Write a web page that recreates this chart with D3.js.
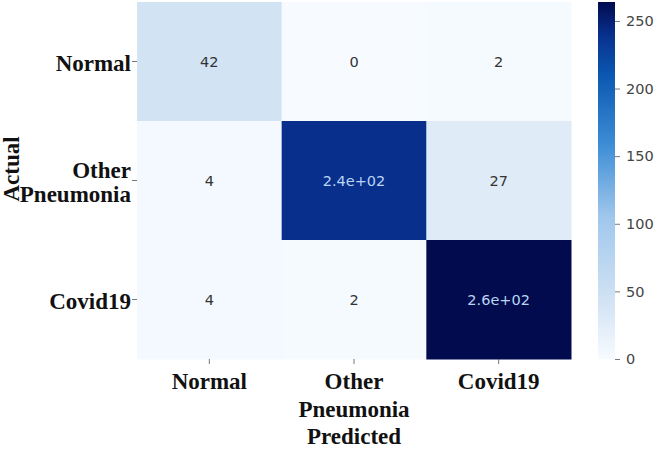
<!DOCTYPE html>
<html>
<head>
<meta charset="utf-8">
<script src="https://cdn.jsdelivr.net/npm/d3@7"></script>
<style>
  html, body { margin: 0; padding: 0; background: #fff; }
  svg { display: block; }
</style>
</head>
<body>
<svg id="chart" width="666" height="449"></svg>
<script>
// ---- data ----
const actualLabels = [["Normal"], ["Other", "Pneumonia"], ["Covid19"]];
const predictedLabels = [["Normal"], ["Other", "Pneumonia", "Predicted"], ["Covid19"]];
const rowNormal = [42, 0, 2];
const rowOther = [4, 240, 27];
const rowCovid = [4, 2, 264];
const annotNormal = ["42", "0", "2"];
const annotOther = ["4", "2.4e+02", "27"];
const annotCovid = ["4", "2", "2.6e+02"];
const colorbarTicks = [0, 50, 100, 150, 200, 250];
const vmin = 0, vmax = 264;

// colour ramp (Blues, as rendered in the reference)
const rampPos = [0, 0.16, 0.4, 0.6, 0.8, 0.91, 1.0];
const rampCol = ["#f7fbff", "#d2e3f4", "#9fc7ec", "#3d8dd6", "#0a56b0", "#082f8c", "#020b4e"];

const rows = [rowNormal, rowOther, rowCovid];
const annots = [annotNormal, annotOther, annotCovid];
const cells = [];
rows.forEach((r, i) => r.forEach((v, j) => cells.push({ i, j, v, t: annots[i][j] })));

const svg = d3.select("#chart");
const L = 137, R = 571, T = 2, B = 359;

const x = d3.scaleBand().domain([0, 1, 2]).range([L, R]);
const y = d3.scaleBand().domain([0, 1, 2]).range([T, B]);
const color = d3.scaleLinear()
  .domain(rampPos.map(p => vmin + p * (vmax - vmin)))
  .range(rampCol).interpolate(d3.interpolateRgb).clamp(true);

// cells
svg.append("g").selectAll("rect").data(cells).join("rect")
  .attr("x", d => x(d.j)).attr("y", d => y(d.i))
  .attr("width", x.bandwidth() + 0.5).attr("height", y.bandwidth() + 0.5)
  .attr("fill", d => color(d.v));

svg.append("g").selectAll("text").data(cells).join("text")
  .attr("x", d => x(d.j) + x.bandwidth() / 2)
  .attr("y", d => y(d.i) + y.bandwidth() / 2)
  .attr("text-anchor", "middle").attr("dominant-baseline", "central")
  .attr("font-family", "DejaVu Sans").attr("font-size", 14.5)
  .attr("fill", d => d.v / vmax > 0.6 ? "#b9d5f2" : "#333")
  .text(d => d.t);

const serif = "'Liberation Serif', 'Times New Roman', serif";

// y axis ticks + labels
const yg = svg.append("g");
[0, 1, 2].forEach(i => {
  const cy = y(i) + y.bandwidth() / 2;
  yg.append("line").attr("x1", L - 5).attr("x2", L).attr("y1", cy).attr("y2", cy)
    .attr("stroke", "#555").attr("stroke-width", 0.8);
  const lines = actualLabels[i];
  const lh = 24;
  const t = yg.append("text").attr("text-anchor", "end")
    .attr("font-family", serif).attr("font-weight", "bold").attr("font-size", 23).attr("fill", "#111");
  lines.forEach((s, k) => {
    t.append("tspan").attr("x", L - 6)
      .attr("y", cy + 9 + (k - (lines.length - 1) / 2) * lh)
      .text(s);
  });
});

// x axis ticks + labels
const xg = svg.append("g");
[0, 1, 2].forEach(j => {
  const cx = x(j) + x.bandwidth() / 2;
  xg.append("line").attr("x1", cx).attr("x2", cx).attr("y1", B).attr("y2", B + 5)
    .attr("stroke", "#555").attr("stroke-width", 0.8);
  const t = xg.append("text").attr("text-anchor", "middle")
    .attr("font-family", serif).attr("font-weight", "bold").attr("font-size", 23).attr("fill", "#111");
  predictedLabels[j].forEach((s, k) => {
    t.append("tspan").attr("x", cx).attr("y", 389 + k * 27.5).text(s);
  });
});

// "Actual" axis label
svg.append("text")
  .attr("transform", `translate(19, ${169}) rotate(-90)`)
  .attr("text-anchor", "middle")
  .attr("font-family", serif).attr("font-weight", "bold").attr("font-size", 23).attr("fill", "#111")
  .text("Actual");

// colorbar
const cbL = 598, cbR = 615;
const cbScale = d3.scaleLinear().domain([vmin, vmax]).range([B, T]);
const defs = svg.append("defs");
const grad = defs.append("linearGradient").attr("id", "cbgrad")
  .attr("x1", 0).attr("y1", 1).attr("x2", 0).attr("y2", 0);
d3.range(0, 1.0001, 0.02).forEach(p => {
  grad.append("stop").attr("offset", p).attr("stop-color", color(vmin + p * (vmax - vmin)));
});
svg.append("rect").attr("x", cbL).attr("y", T).attr("width", cbR - cbL).attr("height", B - T)
  .attr("fill", "url(#cbgrad)");

const cbAxis = d3.axisRight(cbScale).tickValues(colorbarTicks).tickSize(5).tickPadding(6);
const cbg = svg.append("g").attr("transform", `translate(${cbR},0)`).call(cbAxis);
cbg.select(".domain").remove();
cbg.selectAll(".tick line").attr("stroke", "#555").attr("stroke-width", 0.8);
cbg.selectAll(".tick text").attr("font-family", "DejaVu Sans").attr("font-size", 14.5).attr("fill", "#444");
</script>
</body>
</html>
